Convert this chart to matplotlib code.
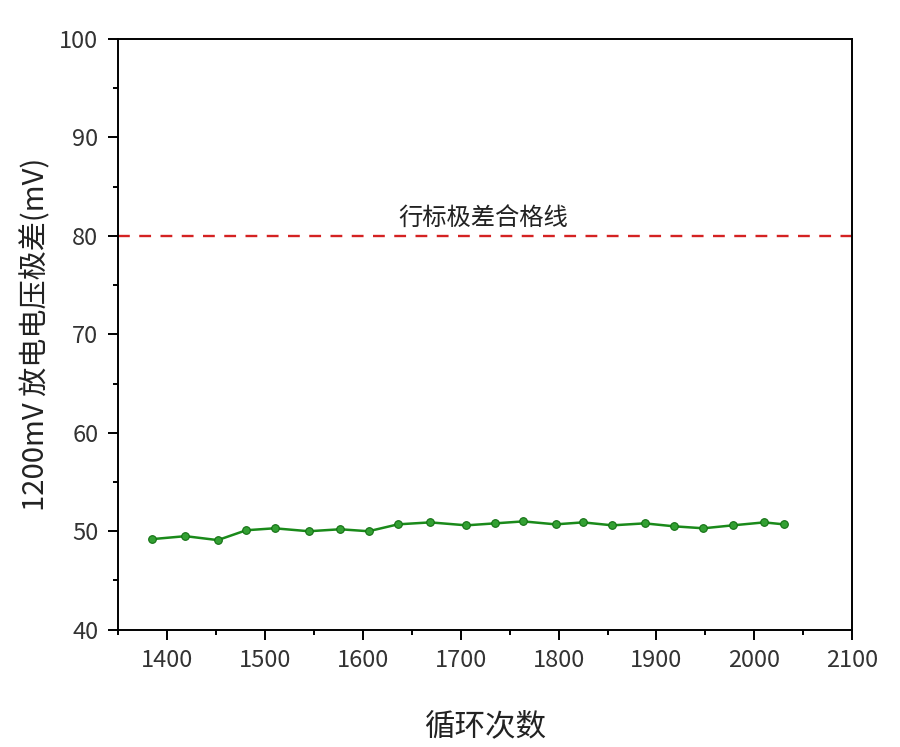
import matplotlib.pyplot as plt
from matplotlib.ticker import MultipleLocator

plt.rcParams['font.family'] = ['Noto Sans CJK SC', 'DejaVu Sans']

# data
cycles = [1385, 1419, 1452, 1481, 1510, 1545, 1577, 1606, 1636, 1669, 1706,
          1735, 1764, 1797, 1825, 1855, 1888, 1918, 1948, 1978, 2010, 2030]
spread = [49.2, 49.5, 49.1, 50.1, 50.3, 50.0, 50.2, 50.0, 50.7, 50.9, 50.6,
          50.8, 51.0, 50.7, 50.9, 50.6, 50.8, 50.5, 50.3, 50.6, 50.9, 50.7]
limit = 80
limit_label = "行标极差合格线"

fig = plt.figure(figsize=(9, 7.47), dpi=100)
ax = fig.add_axes([0.131, 0.157, 0.816, 0.791])

ax.plot(cycles, spread, color="#1a8a1a", lw=1.8, marker="o", ms=5.5,
        mfc="#33a033", mec="#137013", mew=0.8)
ax.axhline(limit, color="#d42222", lw=1.7, ls=(0, (5, 4)))
ax.text(1723, limit + 0.4, limit_label, ha="center", va="bottom", fontsize=17.5,
        color="#222222")

ax.set_xlim(1350, 2100)
ax.set_ylim(40, 100)
ax.xaxis.set_major_locator(MultipleLocator(100))
ax.xaxis.set_minor_locator(MultipleLocator(50))
ax.yaxis.set_major_locator(MultipleLocator(10))
ax.yaxis.set_minor_locator(MultipleLocator(5))

for s in ax.spines.values():
    s.set_linewidth(1.4)
ax.tick_params(which="major", direction="out", length=7, width=1.4, labelsize=17,
               labelcolor="#333333", pad=7)
ax.tick_params(which="minor", direction="out", length=3.5, width=1.4)

ax.set_xlabel("循环次数", fontsize=22, labelpad=28, color="#222222")
ax.set_ylabel("1200mV 放电电压极差(mV)", fontsize=21, labelpad=6, color="#222222")

fig.savefig("out.png", dpi=100)
